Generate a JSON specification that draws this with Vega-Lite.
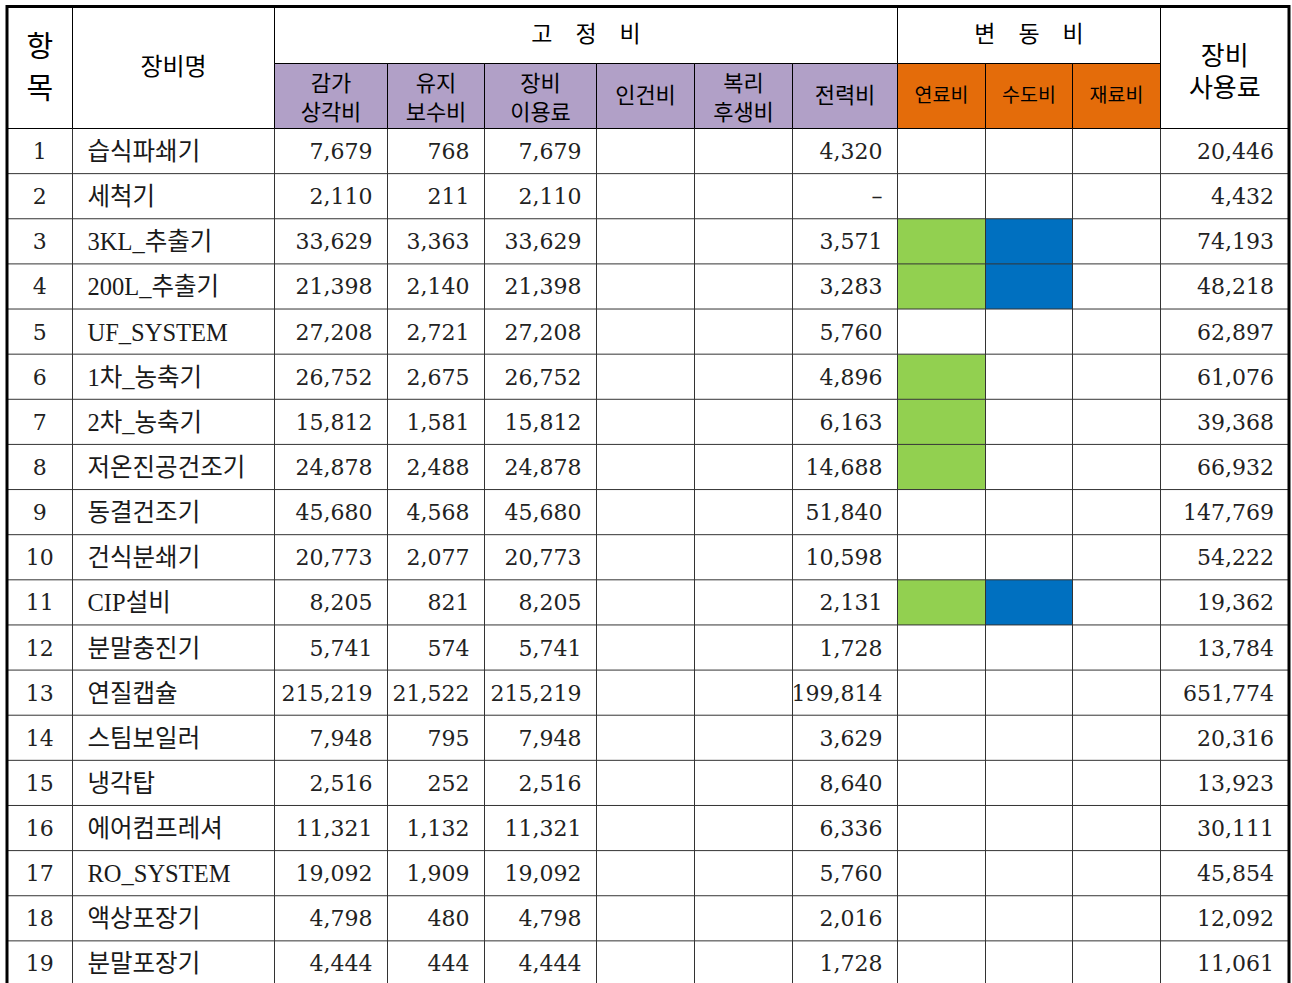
{
  "$schema": "https://vega.github.io/schema/vega-lite/v6.json",
  "width": 1292,
  "height": 983,
  "padding": 0,
  "autosize": "none",
  "background": "#ffffff",
  "config": {"view": {"stroke": null}},
  "datasets": {
    "columns": [
      {"key": "항목", "c0": 0, "c1": 1},
      {"key": "장비명", "c0": 1, "c1": 2},
      {"key": "감가상각비", "c0": 2, "c1": 3},
      {"key": "유지보수비", "c0": 3, "c1": 4},
      {"key": "장비이용료", "c0": 4, "c1": 5},
      {"key": "인건비", "c0": 5, "c1": 6},
      {"key": "복리후생비", "c0": 6, "c1": 7},
      {"key": "전력비", "c0": 7, "c1": 8},
      {"key": "연료비", "c0": 8, "c1": 9},
      {"key": "수도비", "c0": 9, "c1": 10},
      {"key": "재료비", "c0": 10, "c1": 11},
      {"key": "장비사용료", "c0": 11, "c1": 12}
    ],
    "header": [
      {"label": "항\n목", "c0": 0, "c1": 1, "r0": -2, "r1": 0, "group": "기타"},
      {"label": "장비명", "c0": 1, "c1": 2, "r0": -2, "r1": 0, "group": "기타"},
      {"label": "고　정　비", "c0": 2, "c1": 8, "r0": -2, "r1": -1, "group": "기타"},
      {"label": "변　동　비", "c0": 8, "c1": 11, "r0": -2, "r1": -1, "group": "기타"},
      {"label": "장비\n사용료", "c0": 11, "c1": 12, "r0": -2, "r1": 0, "group": "기타"},
      {"label": "감가\n상각비", "c0": 2, "c1": 3, "r0": -1, "r1": 0, "group": "고정비"},
      {"label": "유지\n보수비", "c0": 3, "c1": 4, "r0": -1, "r1": 0, "group": "고정비"},
      {"label": "장비\n이용료", "c0": 4, "c1": 5, "r0": -1, "r1": 0, "group": "고정비"},
      {"label": "인건비", "c0": 5, "c1": 6, "r0": -1, "r1": 0, "group": "고정비"},
      {"label": "복리\n후생비", "c0": 6, "c1": 7, "r0": -1, "r1": 0, "group": "고정비"},
      {"label": "전력비", "c0": 7, "c1": 8, "r0": -1, "r1": 0, "group": "고정비"},
      {"label": "연료비", "c0": 8, "c1": 9, "r0": -1, "r1": 0, "group": "변동비"},
      {"label": "수도비", "c0": 9, "c1": 10, "r0": -1, "r1": 0, "group": "변동비"},
      {"label": "재료비", "c0": 10, "c1": 11, "r0": -1, "r1": 0, "group": "변동비"}
    ],
    "table": [
      {"항목": 1, "장비명": "습식파쇄기", "감가상각비": 7679, "유지보수비": 768, "장비이용료": 7679, "전력비": 4320, "장비사용료": 20446},
      {"항목": 2, "장비명": "세척기", "감가상각비": 2110, "유지보수비": 211, "장비이용료": 2110, "전력비": "–", "장비사용료": 4432},
      {"항목": 3, "장비명": "3KL_추출기", "감가상각비": 33629, "유지보수비": 3363, "장비이용료": 33629, "전력비": 3571, "연료비": true, "수도비": true, "장비사용료": 74193},
      {"항목": 4, "장비명": "200L_추출기", "감가상각비": 21398, "유지보수비": 2140, "장비이용료": 21398, "전력비": 3283, "연료비": true, "수도비": true, "장비사용료": 48218},
      {"항목": 5, "장비명": "UF_SYSTEM", "감가상각비": 27208, "유지보수비": 2721, "장비이용료": 27208, "전력비": 5760, "장비사용료": 62897},
      {"항목": 6, "장비명": "1차_농축기", "감가상각비": 26752, "유지보수비": 2675, "장비이용료": 26752, "전력비": 4896, "연료비": true, "장비사용료": 61076},
      {"항목": 7, "장비명": "2차_농축기", "감가상각비": 15812, "유지보수비": 1581, "장비이용료": 15812, "전력비": 6163, "연료비": true, "장비사용료": 39368},
      {"항목": 8, "장비명": "저온진공건조기", "감가상각비": 24878, "유지보수비": 2488, "장비이용료": 24878, "전력비": 14688, "연료비": true, "장비사용료": 66932},
      {"항목": 9, "장비명": "동결건조기", "감가상각비": 45680, "유지보수비": 4568, "장비이용료": 45680, "전력비": 51840, "장비사용료": 147769},
      {"항목": 10, "장비명": "건식분쇄기", "감가상각비": 20773, "유지보수비": 2077, "장비이용료": 20773, "전력비": 10598, "장비사용료": 54222},
      {"항목": 11, "장비명": "CIP설비", "감가상각비": 8205, "유지보수비": 821, "장비이용료": 8205, "전력비": 2131, "연료비": true, "수도비": true, "장비사용료": 19362},
      {"항목": 12, "장비명": "분말충진기", "감가상각비": 5741, "유지보수비": 574, "장비이용료": 5741, "전력비": 1728, "장비사용료": 13784},
      {"항목": 13, "장비명": "연질캡슐", "감가상각비": 215219, "유지보수비": 21522, "장비이용료": 215219, "전력비": 199814, "장비사용료": 651774},
      {"항목": 14, "장비명": "스팀보일러", "감가상각비": 7948, "유지보수비": 795, "장비이용료": 7948, "전력비": 3629, "장비사용료": 20316},
      {"항목": 15, "장비명": "냉각탑", "감가상각비": 2516, "유지보수비": 252, "장비이용료": 2516, "전력비": 8640, "장비사용료": 13923},
      {"항목": 16, "장비명": "에어컴프레셔", "감가상각비": 11321, "유지보수비": 1132, "장비이용료": 11321, "전력비": 6336, "장비사용료": 30111},
      {"항목": 17, "장비명": "RO_SYSTEM", "감가상각비": 19092, "유지보수비": 1909, "장비이용료": 19092, "전력비": 5760, "장비사용료": 45854},
      {"항목": 18, "장비명": "액상포장기", "감가상각비": 4798, "유지보수비": 480, "장비이용료": 4798, "전력비": 2016, "장비사용료": 12092},
      {"항목": 19, "장비명": "분말포장기", "감가상각비": 4444, "유지보수비": 444, "장비이용료": 4444, "전력비": 1728, "장비사용료": 11061}
    ]
  },
  "layer": [
    {
      "data": {"name": "table"},
      "transform": [
        {"fold": ["연료비", "수도비"], "as": ["key", "flag"]},
        {"filter": "datum.flag === true"},
        {"lookup": "key", "from": {"data": {"name": "columns"}, "key": "key", "fields": ["c0", "c1"]}},
        {"calculate": "datum['항목'] - 1", "as": "top"}
      ],
      "mark": {"type": "rect"},
      "encoding": {
        "x": {"field": "c0", "type": "quantitative", "axis": null, "scale": {"domain": [0,1,2,3,4,5,6,7,8,9,10,11,12], "range": [7,72.5,274.5,387.5,484.5,596.5,694.5,792.5,897.5,985.5,1072.5,1160.5,1289], "nice": false, "zero": false}},
        "x2": {"field": "c1"},
        "y": {"field": "top", "type": "quantitative", "axis": null, "scale": {"domain": [-2,-1,0,19], "range": [6.5,63.5,128.5,986], "nice": false, "zero": false}},
        "y2": {"field": "항목"},
        "color": {"field": "key", "type": "nominal", "legend": null, "scale": {"domain": ["연료비", "수도비"], "range": ["#92D050", "#0070C0"]}}
      }
    },
    {
      "data": {"name": "columns"},
      "mark": {"type": "rule", "color": "#333333", "strokeWidth": 1},
      "encoding": {
        "x": {"field": "c0", "type": "quantitative", "axis": null, "scale": {"domain": [0,1,2,3,4,5,6,7,8,9,10,11,12], "range": [7,72.5,274.5,387.5,484.5,596.5,694.5,792.5,897.5,985.5,1072.5,1160.5,1289], "nice": false, "zero": false}},
        "y": {"datum": 0, "type": "quantitative", "axis": null, "scale": {"domain": [-2,-1,0,19], "range": [6.5,63.5,128.5,986], "nice": false, "zero": false}},
        "y2": {"datum": 19}
      }
    },
    {
      "data": {"name": "table"},
      "mark": {"type": "rule", "color": "#333333", "strokeWidth": 1},
      "encoding": {
        "x": {"datum": 0, "type": "quantitative", "axis": null, "scale": {"domain": [0,1,2,3,4,5,6,7,8,9,10,11,12], "range": [7,72.5,274.5,387.5,484.5,596.5,694.5,792.5,897.5,985.5,1072.5,1160.5,1289], "nice": false, "zero": false}},
        "x2": {"datum": 12},
        "y": {"field": "항목", "type": "quantitative", "axis": null, "scale": {"domain": [-2,-1,0,19], "range": [6.5,63.5,128.5,986], "nice": false, "zero": false}}
      }
    },
    {
      "data": {"name": "header"},
      "mark": {"type": "rect", "stroke": "#000000", "strokeWidth": 1},
      "encoding": {
        "x": {"field": "c0", "type": "quantitative", "axis": null, "scale": {"domain": [0,1,2,3,4,5,6,7,8,9,10,11,12], "range": [7,72.5,274.5,387.5,484.5,596.5,694.5,792.5,897.5,985.5,1072.5,1160.5,1289], "nice": false, "zero": false}},
        "x2": {"field": "c1"},
        "y": {"field": "r0", "type": "quantitative", "axis": null, "scale": {"domain": [-2,-1,0,19], "range": [6.5,63.5,128.5,986], "nice": false, "zero": false}},
        "y2": {"field": "r1"},
        "fill": {"field": "group", "type": "nominal", "legend": null, "scale": {"domain": ["고정비", "변동비", "기타"], "range": ["#B1A0C7", "#E46C0A", "#FFFFFF"]}}
      }
    },
    {
      "data": {"name": "header"},
      "transform": [
        {"filter": "datum.label === '항\\n목'"},
        {"calculate": "invert('x', (scale('x', datum.c0) + scale('x', datum.c1)) / 2)", "as": "xm"},
        {"calculate": "invert('y', (scale('y', datum.r0) + scale('y', datum.r1)) / 2)", "as": "ym"}
      ],
      "mark": {"type": "text", "font": "Noto Sans CJK KR", "fontSize": 29, "lineBreak": "\n", "lineHeight": 42, "align": "center", "baseline": "middle", "dy": -20, "color": "#000000"},
      "encoding": {
        "x": {"field": "xm", "type": "quantitative", "axis": null, "scale": {"domain": [0,1,2,3,4,5,6,7,8,9,10,11,12], "range": [7,72.5,274.5,387.5,484.5,596.5,694.5,792.5,897.5,985.5,1072.5,1160.5,1289], "nice": false, "zero": false}},
        "y": {"field": "ym", "type": "quantitative", "axis": null, "scale": {"domain": [-2,-1,0,19], "range": [6.5,63.5,128.5,986], "nice": false, "zero": false}},
        "text": {"field": "label", "type": "nominal"}
      }
    },
    {
      "data": {"name": "header"},
      "transform": [
        {"filter": "datum.label === '장비명'"},
        {"calculate": "invert('x', (scale('x', datum.c0) + scale('x', datum.c1)) / 2)", "as": "xm"},
        {"calculate": "invert('y', (scale('y', datum.r0) + scale('y', datum.r1)) / 2)", "as": "ym"}
      ],
      "mark": {"type": "text", "font": "Noto Sans CJK KR", "fontSize": 24, "align": "center", "baseline": "middle", "dy": 0, "color": "#000000"},
      "encoding": {
        "x": {"field": "xm", "type": "quantitative", "axis": null, "scale": {"domain": [0,1,2,3,4,5,6,7,8,9,10,11,12], "range": [7,72.5,274.5,387.5,484.5,596.5,694.5,792.5,897.5,985.5,1072.5,1160.5,1289], "nice": false, "zero": false}},
        "y": {"field": "ym", "type": "quantitative", "axis": null, "scale": {"domain": [-2,-1,0,19], "range": [6.5,63.5,128.5,986], "nice": false, "zero": false}},
        "text": {"field": "label", "type": "nominal"}
      }
    },
    {
      "data": {"name": "header"},
      "transform": [
        {"filter": "datum.label === '장비\\n사용료'"},
        {"calculate": "invert('x', (scale('x', datum.c0) + scale('x', datum.c1)) / 2)", "as": "xm"},
        {"calculate": "invert('y', (scale('y', datum.r0) + scale('y', datum.r1)) / 2)", "as": "ym"}
      ],
      "mark": {"type": "text", "font": "Noto Sans CJK KR", "fontSize": 26, "lineBreak": "\n", "lineHeight": 32, "align": "center", "baseline": "middle", "dy": -11, "color": "#000000"},
      "encoding": {
        "x": {"field": "xm", "type": "quantitative", "axis": null, "scale": {"domain": [0,1,2,3,4,5,6,7,8,9,10,11,12], "range": [7,72.5,274.5,387.5,484.5,596.5,694.5,792.5,897.5,985.5,1072.5,1160.5,1289], "nice": false, "zero": false}},
        "y": {"field": "ym", "type": "quantitative", "axis": null, "scale": {"domain": [-2,-1,0,19], "range": [6.5,63.5,128.5,986], "nice": false, "zero": false}},
        "text": {"field": "label", "type": "nominal"}
      }
    },
    {
      "data": {"name": "header"},
      "transform": [
        {"filter": "datum.r1 === -1"},
        {"calculate": "invert('x', (scale('x', datum.c0) + scale('x', datum.c1)) / 2)", "as": "xm"},
        {"calculate": "invert('y', (scale('y', datum.r0) + scale('y', datum.r1)) / 2)", "as": "ym"}
      ],
      "mark": {"type": "text", "font": "Noto Sans CJK KR", "fontSize": 23, "align": "center", "baseline": "middle", "color": "#000000"},
      "encoding": {
        "x": {"field": "xm", "type": "quantitative", "axis": null, "scale": {"domain": [0,1,2,3,4,5,6,7,8,9,10,11,12], "range": [7,72.5,274.5,387.5,484.5,596.5,694.5,792.5,897.5,985.5,1072.5,1160.5,1289], "nice": false, "zero": false}},
        "y": {"field": "ym", "type": "quantitative", "axis": null, "scale": {"domain": [-2,-1,0,19], "range": [6.5,63.5,128.5,986], "nice": false, "zero": false}},
        "text": {"field": "label", "type": "nominal"}
      }
    },
    {
      "data": {"name": "header"},
      "transform": [
        {"filter": "datum.group === '고정비' && indexof(datum.label, '\\n') >= 0"},
        {"calculate": "invert('x', (scale('x', datum.c0) + scale('x', datum.c1)) / 2)", "as": "xm"},
        {"calculate": "invert('y', (scale('y', datum.r0) + scale('y', datum.r1)) / 2)", "as": "ym"}
      ],
      "mark": {"type": "text", "font": "Noto Sans CJK KR", "fontSize": 22, "lineBreak": "\n", "lineHeight": 29, "align": "center", "baseline": "middle", "dy": -12, "color": "#000000"},
      "encoding": {
        "x": {"field": "xm", "type": "quantitative", "axis": null, "scale": {"domain": [0,1,2,3,4,5,6,7,8,9,10,11,12], "range": [7,72.5,274.5,387.5,484.5,596.5,694.5,792.5,897.5,985.5,1072.5,1160.5,1289], "nice": false, "zero": false}},
        "y": {"field": "ym", "type": "quantitative", "axis": null, "scale": {"domain": [-2,-1,0,19], "range": [6.5,63.5,128.5,986], "nice": false, "zero": false}},
        "text": {"field": "label", "type": "nominal"}
      }
    },
    {
      "data": {"name": "header"},
      "transform": [
        {"filter": "datum.group === '고정비' && indexof(datum.label, '\\n') < 0"},
        {"calculate": "invert('x', (scale('x', datum.c0) + scale('x', datum.c1)) / 2)", "as": "xm"},
        {"calculate": "invert('y', (scale('y', datum.r0) + scale('y', datum.r1)) / 2)", "as": "ym"}
      ],
      "mark": {"type": "text", "font": "Noto Sans CJK KR", "fontSize": 22, "align": "center", "baseline": "middle", "color": "#000000"},
      "encoding": {
        "x": {"field": "xm", "type": "quantitative", "axis": null, "scale": {"domain": [0,1,2,3,4,5,6,7,8,9,10,11,12], "range": [7,72.5,274.5,387.5,484.5,596.5,694.5,792.5,897.5,985.5,1072.5,1160.5,1289], "nice": false, "zero": false}},
        "y": {"field": "ym", "type": "quantitative", "axis": null, "scale": {"domain": [-2,-1,0,19], "range": [6.5,63.5,128.5,986], "nice": false, "zero": false}},
        "text": {"field": "label", "type": "nominal"}
      }
    },
    {
      "data": {"name": "header"},
      "transform": [
        {"filter": "datum.group === '변동비'"},
        {"calculate": "invert('x', (scale('x', datum.c0) + scale('x', datum.c1)) / 2)", "as": "xm"},
        {"calculate": "invert('y', (scale('y', datum.r0) + scale('y', datum.r1)) / 2)", "as": "ym"}
      ],
      "mark": {"type": "text", "font": "Noto Sans CJK KR", "fontSize": 19.5, "align": "center", "baseline": "middle", "color": "#000000"},
      "encoding": {
        "x": {"field": "xm", "type": "quantitative", "axis": null, "scale": {"domain": [0,1,2,3,4,5,6,7,8,9,10,11,12], "range": [7,72.5,274.5,387.5,484.5,596.5,694.5,792.5,897.5,985.5,1072.5,1160.5,1289], "nice": false, "zero": false}},
        "y": {"field": "ym", "type": "quantitative", "axis": null, "scale": {"domain": [-2,-1,0,19], "range": [6.5,63.5,128.5,986], "nice": false, "zero": false}},
        "text": {"field": "label", "type": "nominal"}
      }
    },
    {
      "data": {"name": "table"},
      "transform": [{"calculate": "datum['항목'] - 0.5", "as": "mid"}],
      "mark": {"type": "text", "font": "DejaVu Serif", "fontSize": 22, "align": "center", "baseline": "middle", "dy": 1, "color": "#222222"},
      "encoding": {
        "x": {"datum": 0.5, "type": "quantitative", "axis": null, "scale": {"domain": [0,1,2,3,4,5,6,7,8,9,10,11,12], "range": [7,72.5,274.5,387.5,484.5,596.5,694.5,792.5,897.5,985.5,1072.5,1160.5,1289], "nice": false, "zero": false}},
        "y": {"field": "mid", "type": "quantitative", "axis": null, "scale": {"domain": [-2,-1,0,19], "range": [6.5,63.5,128.5,986], "nice": false, "zero": false}},
        "text": {"field": "항목", "type": "nominal"}
      }
    },
    {
      "data": {"name": "table"},
      "transform": [{"calculate": "datum['항목'] - 0.5", "as": "mid"}],
      "mark": {"type": "text", "font": "'Liberation Serif', 'Noto Sans CJK KR'", "fontSize": 24.5, "align": "left", "baseline": "middle", "dx": 15, "dy": 2, "color": "#1a1a1a"},
      "encoding": {
        "x": {"datum": 1, "type": "quantitative", "axis": null, "scale": {"domain": [0,1,2,3,4,5,6,7,8,9,10,11,12], "range": [7,72.5,274.5,387.5,484.5,596.5,694.5,792.5,897.5,985.5,1072.5,1160.5,1289], "nice": false, "zero": false}},
        "y": {"field": "mid", "type": "quantitative", "axis": null, "scale": {"domain": [-2,-1,0,19], "range": [6.5,63.5,128.5,986], "nice": false, "zero": false}},
        "text": {"field": "장비명", "type": "nominal"}
      }
    },
    {
      "data": {"name": "table"},
      "transform": [
        {"fold": ["감가상각비", "유지보수비", "장비이용료", "전력비", "장비사용료"], "as": ["key", "value"]},
        {"filter": "isValid(datum.value)"},
        {"lookup": "key", "from": {"data": {"name": "columns"}, "key": "key", "fields": ["c1"]}},
        {"calculate": "isNumber(datum.value) ? format(datum.value, ',') : datum.value", "as": "label"},
        {"calculate": "datum['항목'] - 0.5", "as": "mid"}
      ],
      "mark": {"type": "text", "font": "DejaVu Serif", "fontSize": 22, "align": "right", "baseline": "middle", "dx": -15, "dy": 1, "color": "#222222"},
      "encoding": {
        "x": {"field": "c1", "type": "quantitative", "axis": null, "scale": {"domain": [0,1,2,3,4,5,6,7,8,9,10,11,12], "range": [7,72.5,274.5,387.5,484.5,596.5,694.5,792.5,897.5,985.5,1072.5,1160.5,1289], "nice": false, "zero": false}},
        "y": {"field": "mid", "type": "quantitative", "axis": null, "scale": {"domain": [-2,-1,0,19], "range": [6.5,63.5,128.5,986], "nice": false, "zero": false}},
        "text": {"field": "label", "type": "nominal"}
      }
    },
    {
      "data": {"values": [{}]},
      "mark": {"type": "rect", "filled": false, "stroke": "#000000", "strokeWidth": 3},
      "encoding": {
        "x": {"datum": 0, "type": "quantitative", "axis": null, "scale": {"domain": [0,1,2,3,4,5,6,7,8,9,10,11,12], "range": [7,72.5,274.5,387.5,484.5,596.5,694.5,792.5,897.5,985.5,1072.5,1160.5,1289], "nice": false, "zero": false}},
        "x2": {"datum": 12},
        "y": {"datum": -2, "type": "quantitative", "axis": null, "scale": {"domain": [-2,-1,0,19], "range": [6.5,63.5,128.5,986], "nice": false, "zero": false}},
        "y2": {"datum": 19}
      }
    }
  ]
}
